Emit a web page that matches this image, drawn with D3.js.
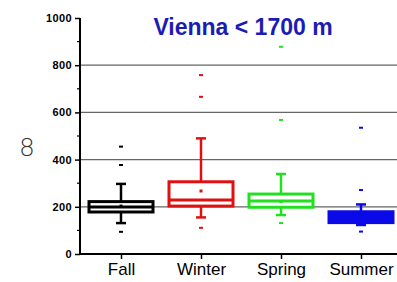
<!DOCTYPE html>
<html>
<head>
<meta charset="utf-8">
<script src="https://cdn.jsdelivr.net/npm/d3@7"></script>
<style>
  body { margin: 0; background: #fff; }
  svg { display: block; }
</style>
</head>
<body>
<svg class="chart"></svg>
<script>
// data
const seasons = ["Fall", "Winter", "Spring", "Summer"]
const colors = ["#000000", "#e01010", "#20e020", "#0a0ae8"]
const q1 = [178, 203, 198, 133]
const median = [199, 229, 225, 160]
const q3 = [222, 306, 254, 179]
const whiskerLow = [131, 155, 165, 123]
const whiskerHigh = [297, 490, 339, 210]
const means = [203, 267, 222, 158]
const outliers = [[455, 377, 94], [758, 666, 111], [878, 568, 131], [535, 271, 95]]
const yTicks = [0, 200, 400, 600, 800, 1000]
const yMinor = [100, 300, 500, 700, 900]

//dimensions
const w = 397
const h = 282
const margin = { top: 18, right: 0, bottom: 28, left: 80 }

const svg = d3.select('.chart')
    .attr('width', w)
    .attr('height', h)

//scales
const xScale = d3.scaleLinear()
    .domain([0.5, 4.5])
    .range([81, 401])
const yScale = d3.scaleLinear()
    .domain([0, 1000])
    .range([h - margin.bottom, margin.top])

//grid
svg.append('g')
    .selectAll('line')
    .data(yTicks.filter(d => d > 0 && d < 1000))
    .join('line')
    .attr('x1', margin.left)
    .attr('x2', w)
    .attr('y1', d => yScale(d))
    .attr('y2', d => yScale(d))
    .attr('stroke', '#666')
    .attr('stroke-width', 1.2)

//axes
const yAxis = d3.axisLeft(yScale)
    .tickValues(yTicks)
    .tickFormat(d3.format('d'))
    .tickSize(5)
    .tickPadding(3)
const gy = svg.append('g')
    .attr('transform', `translate(${margin.left}, 0)`)
    .call(yAxis)
gy.select('.domain').attr('stroke-width', 2).attr('d', `M0,${yScale(0)}V${yScale(1000)}`)
gy.selectAll('.tick line').attr('stroke-width', 1.5)
gy.selectAll('text')
    .style('font-family', 'Arial, "Liberation Sans", sans-serif')
    .style('font-weight', 'bold')
    .style('font-size', '11px')
    .style('letter-spacing', '0.4px')

svg.append('g')
    .selectAll('line')
    .data(yMinor)
    .join('line')
    .attr('x1', margin.left - 3)
    .attr('x2', margin.left)
    .attr('y1', d => yScale(d))
    .attr('y2', d => yScale(d))
    .attr('stroke', 'black')
    .attr('stroke-width', 1.2)

const xAxis = d3.axisBottom(xScale)
    .tickValues([1, 2, 3, 4])
    .tickFormat((d, i) => seasons[i])
    .tickSize(5)
    .tickPadding(4)
const gx = svg.append('g')
    .attr('transform', `translate(0, ${yScale(0)})`)
    .call(xAxis)
gx.select('.domain').attr('stroke-width', 2).attr('d', `M${margin.left},0H${w}`)
gx.selectAll('.tick line').attr('stroke-width', 1.5)
gx.selectAll('text')
    .style('font-family', 'Arial, "Liberation Sans", sans-serif')
    .style('font-size', '17px')

//boxes
const boxW = 64
const capW = 10
seasons.forEach((s, i) => {
    const cx = xScale(i + 1)
    const c = colors[i]
    const g = svg.append('g')
    const filled = i === 3
    // whiskers
    g.append('line')
        .attr('x1', cx).attr('x2', cx)
        .attr('y1', yScale(whiskerHigh[i])).attr('y2', yScale(whiskerLow[i]))
        .attr('stroke', c).attr('stroke-width', 2.5)
    ;[whiskerHigh[i], whiskerLow[i]].forEach(v => {
        g.append('line')
            .attr('x1', cx - capW / 2).attr('x2', cx + capW / 2)
            .attr('y1', yScale(v)).attr('y2', yScale(v))
            .attr('stroke', c).attr('stroke-width', 2.5)
    })
    // box
    g.append('rect')
        .attr('x', cx - boxW / 2)
        .attr('width', boxW)
        .attr('y', yScale(q3[i]))
        .attr('height', yScale(q1[i]) - yScale(q3[i]))
        .attr('fill', filled ? c : 'white')
        .attr('stroke', c)
        .attr('stroke-width', 3)
    g.append('line')
        .attr('x1', cx - boxW / 2).attr('x2', cx + boxW / 2)
        .attr('y1', yScale(median[i])).attr('y2', yScale(median[i]))
        .attr('stroke', c).attr('stroke-width', 3)
    // mean
    g.append('rect')
        .attr('x', cx - 1.5).attr('y', yScale(means[i]) - 1.5)
        .attr('width', 3).attr('height', 3)
        .attr('fill', c)
    // outliers
    g.selectAll('.out')
        .data(outliers[i])
        .join('rect')
        .attr('x', cx - 2).attr('y', d => yScale(d) - 1)
        .attr('width', 4).attr('height', 2)
        .attr('fill', c)
})

//title
svg.append('text')
    .attr('x', 243)
    .attr('y', 35)
    .attr('text-anchor', 'middle')
    .style('font-family', 'Arial, "Liberation Sans", sans-serif')
    .style('font-weight', 'bold')
    .style('font-size', '23px')
    .attr('fill', '#1c1cb4')
    .text('Vienna < 1700 m')

//y label
svg.append('text')
    .attr('x', 27)
    .attr('y', 156)
    .attr('text-anchor', 'middle')
    .style('font-family', '"DejaVu Sans", sans-serif')
    .style('font-weight', '200')
    .style('font-size', '25px')
    .attr('fill', '#333')
    .text('8')
</script>
</body>
</html>
